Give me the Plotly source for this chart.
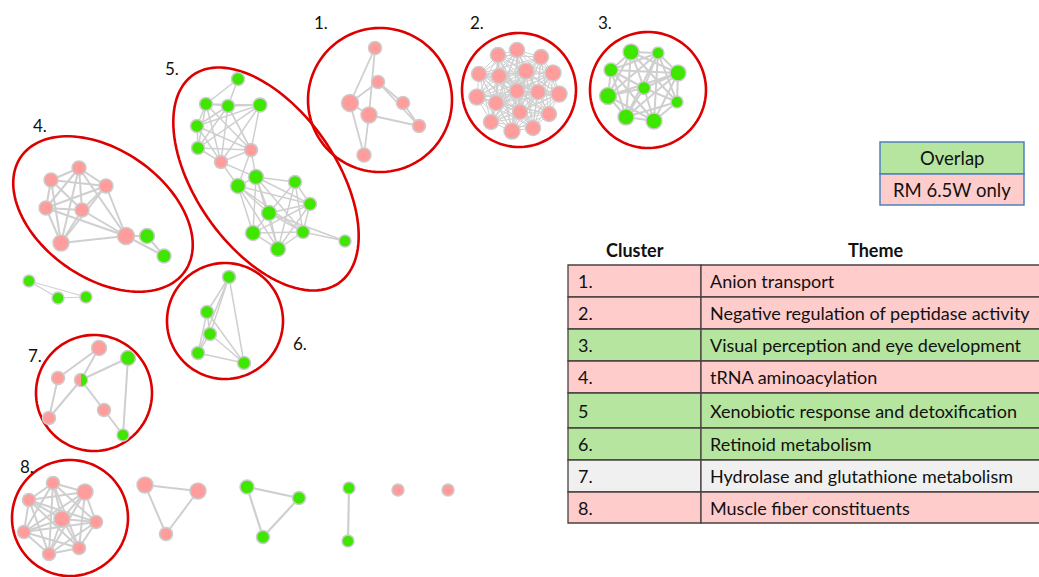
import numpy as np
import plotly.graph_objects as go

W, H = 1039, 577
PINK_NODE = "#ff9d9d"
GREEN_NODE = "#3ee600"
NODE_EDGE = "#cccccc"
LINK = "#cfcfcf"
RING = "#dd0000"

# ---------------- network nodes (x, y in canvas units, d = node diameter) ----------------
# kind: p = RM 6.5W only, g = overlap, h = both
C1_X = [375, 378, 350, 369, 403, 419, 364]
C1_Y = [48, 82, 103, 115, 103, 126, 155]
C1_D = [13, 13, 17, 16, 13, 13, 14]
C1_K = ["p"] * 7
C1_E = [(0, 2), (0, 3), (1, 2), (1, 4), (1, 5), (4, 5), (2, 3), (2, 6), (3, 6), (3, 5)]

C2_X = [517, 498, 541, 479, 499, 526, 553, 517, 538, 559, 477, 496, 520, 549, 491, 512, 533]
C2_Y = [50, 55, 57, 74, 76, 71, 73, 91, 92, 94, 97, 103, 112, 114, 122, 131, 128]
C2_D = [15, 15, 15, 15, 15, 16, 16, 15, 15, 16, 16, 15, 15, 15, 15, 16, 15]
C2_K = ["p"] * 17
C2_E = [(i, j) for i in range(17) for j in range(i + 1, 17)]

C3_X = [631, 658, 611, 678, 644, 608, 677, 626, 654]
C3_Y = [52, 53, 70, 73, 88, 96, 102, 117, 121]
C3_D = [16, 12, 14, 16, 13, 17, 12, 16, 16]
C3_K = ["g"] * 9
C3_E = [(i, j) for i in range(9) for j in range(i + 1, 9) if (i, j) not in [(2, 6), (5, 6), (0, 8)]]

C4_X = [51, 79, 106, 46, 82, 61, 126, 147, 164]
C4_Y = [180, 168, 186, 208, 210, 243, 236, 236, 256]
C4_D = [14, 14, 14, 14, 14, 16, 17, 15, 14]
C4_K = ["p"] * 7 + ["g"] * 2
C4_E = ([(i, j) for i in range(6) for j in range(i + 1, 6)]
        + [(1, 6), (2, 6), (3, 6), (4, 6), (5, 6), (6, 7), (6, 8), (7, 8)])

S1_X = [29, 58, 86]
S1_Y = [281, 298, 297]
S1_D = [12, 12, 12]
S1_K = ["g"] * 3
S1_E = [(0, 1), (0, 2), (1, 2)]

C5_X = [238, 206, 228, 260, 197, 198, 251, 221, 256, 238, 295, 310, 269, 253, 303, 278, 345]
C5_Y = [79, 104, 106, 105, 126, 148, 150, 162, 177, 186, 182, 204, 213, 233, 232, 249, 241]
C5_D = [13, 13, 13, 14, 13, 13, 13, 13, 15, 15, 13, 13, 15, 15, 13, 15, 12]
C5_K = ["g"] * 6 + ["p"] * 2 + ["g"] * 9
C5_E = ([(0, 1), (0, 2)]
        + [(i, j) for i in range(1, 8) for j in range(i + 1, 8)]
        + [(6, 8), (6, 9), (7, 9), (7, 8), (6, 2)]
        + [(i, j) for i in range(8, 16) for j in range(i + 1, 16) if (i, j) not in [(9, 10), (10, 13)]]
        + [(14, 16), (12, 16)])

C6_X = [229, 207, 210, 198, 244]
C6_Y = [277, 312, 334, 353, 363]
C6_D = [13, 13, 13, 13, 13]
C6_K = ["g"] * 5
C6_E = [(i, j) for i in range(5) for j in range(i + 1, 5)]

C7_X = [99, 128, 58, 81, 104, 49, 123]
C7_Y = [348, 358, 378, 380, 410, 418, 435]
C7_D = [15, 15, 13, 13, 13, 13, 12]
C7_K = ["p", "g", "p", "h", "p", "p", "g"]
C7_E = [(0, 2), (0, 3), (2, 5), (3, 5), (3, 1), (3, 4), (4, 6), (1, 6)]

C8_X = [53, 85, 29, 62, 96, 24, 79, 49]
C8_Y = [483, 492, 500, 519, 522, 532, 548, 554]
C8_D = [13, 16, 13, 16, 13, 13, 13, 13]
C8_K = ["p"] * 8
C8_E = [(i, j) for i in range(8) for j in range(i + 1, 8)]

T1_X = [145, 198, 166]
T1_Y = [485, 491, 534]
T1_D = [16, 16, 13]
T1_K = ["p"] * 3
T1_E = [(0, 1), (0, 2), (1, 2)]

T2_X = [247, 299, 263]
T2_Y = [487, 498, 537]
T2_D = [14, 13, 13]
T2_K = ["g"] * 3
T2_E = [(0, 1), (0, 2), (1, 2)]

P1_X = [349, 348]
P1_Y = [488, 541]
P1_D = [12, 12]
P1_K = ["g", "g"]
P1_E = [(0, 1)]

U_X = [398, 448]
U_Y = [490, 490]
U_D = [12, 12]
U_K = ["p", "p"]
U_E = []

GROUPS = [
    (C1_X, C1_Y, C1_D, C1_K, C1_E, 1.8),
    (C2_X, C2_Y, C2_D, C2_K, C2_E, 1.0),
    (C3_X, C3_Y, C3_D, C3_K, C3_E, 2.0),
    (C4_X, C4_Y, C4_D, C4_K, C4_E, 2.0),
    (S1_X, S1_Y, S1_D, S1_K, S1_E, 1.2),
    (C5_X, C5_Y, C5_D, C5_K, C5_E, 1.5),
    (C6_X, C6_Y, C6_D, C6_K, C6_E, 1.5),
    (C7_X, C7_Y, C7_D, C7_K, C7_E, 2.0),
    (C8_X, C8_Y, C8_D, C8_K, C8_E, 2.0),
    (T1_X, T1_Y, T1_D, T1_K, T1_E, 2.0),
    (T2_X, T2_Y, T2_D, T2_K, T2_E, 2.2),
    (P1_X, P1_Y, P1_D, P1_K, P1_E, 2.2),
    (U_X, U_Y, U_D, U_K, U_E, 1.0),
]

# cluster rings: label, cx, cy, semi-axis a, semi-axis b, tilt (deg), label x, label y
RING_ID = ["1.", "2.", "3.", "4.", "5.", "6.", "7.", "8."]
RING_CX = [380, 519, 648, 103, 266, 225, 94, 70]
RING_CY = [100, 90, 90, 214, 179, 321, 393, 518]
RING_A = [72, 57, 58, 100, 127, 58, 58, 58]
RING_B = [72, 57, 58, 64, 70, 58, 58, 58]
RING_TILT = [0, 0, 0, 35, 55, 0, 0, 0]
RING_LX = [321, 477, 605, 40, 172, 300, 35, 27]
RING_LY = [22, 22, 22, 125, 68, 343, 355, 466]

# ---------------- legend and table ----------------
LEGEND_LABELS = ["Overlap", "RM 6.5W only"]
TABLE_HEAD = ["Cluster", "Theme"]
CLUSTER_IDS = ["1.", "2.", "3.", "4.", "5", "6.", "7.", "8."]
THEMES = [
    "Anion transport",
    "Negative regulation of peptidase activity",
    "Visual perception and eye development",
    "tRNA aminoacylation",
    "Xenobiotic response and detoxification",
    "Retinoid metabolism",
    "Hydrolase and glutathione metabolism",
    "Muscle fiber constituents",
]
ROW_CLASS = ["p", "p", "g", "p", "g", "g", "n", "p"]
ROW_EDGES = [265, 297, 329, 361, 393, 428, 460, 492, 523]

FILL = {"p": "#ffcccc", "g": "#b5e59f", "n": "#f0f0f0"}
FONT = "Lato, 'Open Sans', sans-serif"

fig = go.Figure()
shapes = []
annotations = []

# links and nodes
for gx, gy, gd, gk, ge, lw in GROUPS:
    ex, ey = [], []
    for a, b in ge:
        ex += [gx[a], gx[b], None]
        ey += [gy[a], gy[b], None]
    if ex:
        fig.add_trace(go.Scatter(x=ex, y=ey, mode="lines", hoverinfo="skip",
                                 line=dict(color=LINK, width=lw), showlegend=False))
    colors = [GREEN_NODE if k == "g" else PINK_NODE for k in gk]
    fig.add_trace(go.Scatter(x=gx, y=gy, mode="markers", hoverinfo="skip", showlegend=False,
                             marker=dict(size=gd, color=colors, opacity=1,
                                         line=dict(color=NODE_EDGE, width=1.5))))
    # nodes shared by both sets: right half painted green
    for x, y, d, k in zip(gx, gy, gd, gk):
        if k == "h":
            r = d / 2 - 0.5
            t = np.linspace(-np.pi / 2, np.pi / 2, 24)
            pts = " L".join(f"{x + r * np.cos(v):.2f},{y + r * np.sin(v):.2f}" for v in t)
            shapes.append(dict(type="path", path=f"M{x},{y - r} L{pts} Z", layer="above",
                               xref="x", yref="y", fillcolor=GREEN_NODE, line=dict(width=0)))

# cluster rings
for lab, cx, cy, a, b, tilt, lx, ly in zip(RING_ID, RING_CX, RING_CY, RING_A, RING_B,
                                          RING_TILT, RING_LX, RING_LY):
    th = np.deg2rad(tilt)
    t = np.linspace(0, 2 * np.pi, 120)
    px = cx + a * np.cos(t) * np.cos(th) - b * np.sin(t) * np.sin(th)
    py = cy + a * np.cos(t) * np.sin(th) + b * np.sin(t) * np.cos(th)
    path = "M" + " L".join(f"{u:.2f},{v:.2f}" for u, v in zip(px, py)) + " Z"
    shapes.append(dict(type="path", path=path, xref="x", yref="y", layer="below",
                       line=dict(color=RING, width=2.6)))
    annotations.append(dict(x=lx, y=ly, text=lab, showarrow=False, xref="x", yref="y",
                            font=dict(family=FONT, size=17, color="#111")))

# legend box
leg_rows = [(142, 174, FILL["g"]), (174, 205, FILL["p"])]
for (y0, y1, col), lab in zip(leg_rows, LEGEND_LABELS):
    shapes.append(dict(type="rect", x0=880, x1=1024, y0=y0, y1=y1, xref="x", yref="y",
                       fillcolor=col, line=dict(color="#4f81bd", width=1.5), layer="below"))
    annotations.append(dict(x=952, y=(y0 + y1) / 2, text=lab, showarrow=False,
                            xref="x", yref="y", font=dict(family=FONT, size=18.5, color="#111")))

# table
annotations.append(dict(x=635, y=250, text=f"<b>{TABLE_HEAD[0]}</b>", showarrow=False,
                        xref="x", yref="y", font=dict(family=FONT, size=18, color="#111")))
annotations.append(dict(x=875, y=250, text=f"<b>{TABLE_HEAD[1]}</b>", showarrow=False,
                        xref="x", yref="y", font=dict(family=FONT, size=18, color="#111")))
for i, (cid, theme, cls) in enumerate(zip(CLUSTER_IDS, THEMES, ROW_CLASS)):
    y0, y1 = ROW_EDGES[i], ROW_EDGES[i + 1]
    for x0, x1 in [(568, 701), (701, 1045)]:
        shapes.append(dict(type="rect", x0=x0, x1=x1, y0=y0, y1=y1, xref="x", yref="y",
                           fillcolor=FILL[cls], line=dict(color="#4a4040", width=1.3),
                           layer="below"))
    ym = (y0 + y1) / 2
    annotations.append(dict(x=576, y=ym, text=cid, showarrow=False, xanchor="left",
                            xref="x", yref="y", font=dict(family=FONT, size=18, color="#111")))
    annotations.append(dict(x=708, y=ym, text=theme, showarrow=False, xanchor="left",
                            xref="x", yref="y", font=dict(family=FONT, size=18, color="#111")))

fig.update_layout(
    width=W, height=H, margin=dict(l=0, r=0, t=0, b=0),
    paper_bgcolor="white", plot_bgcolor="white",
    xaxis=dict(range=[0, W], visible=False, fixedrange=True),
    yaxis=dict(range=[H, 0], visible=False, fixedrange=True),
    shapes=shapes, annotations=annotations, showlegend=False,
)
fig.write_html("out.html")
